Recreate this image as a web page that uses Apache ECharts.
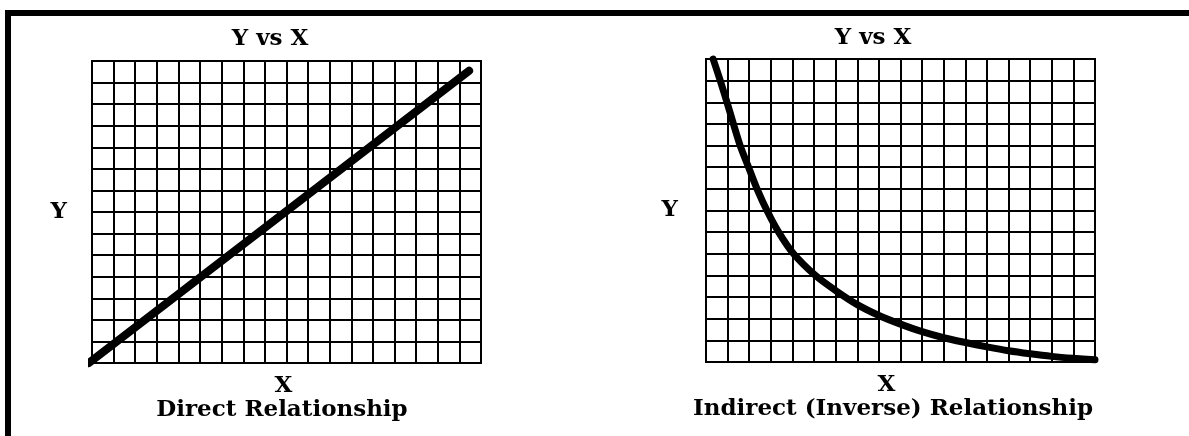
<!DOCTYPE html>
<html>
<head>
<meta charset="utf-8">
<title>Y vs X</title>
<script src="https://cdn.jsdelivr.net/npm/echarts/dist/echarts.min.js"></script>
<style>
  html, body { margin: 0; padding: 0; background: #fff; }
  #chart { width: 1189px; height: 436px; }
</style>
</head>
<body>
<div id="chart"></div>
<script>
  // grid cells, same on both panels
  var xMax = 18;
  var yMax = 14;

  // direct relationship: straight line
  var directX = [-0.15, 17.45];
  var directY = [0, 13.55];

  // indirect (inverse) relationship: falling curve
  var inverseX = [0.33, 0.66, 0.97, 1.27, 1.58, 1.97, 2.36, 2.82, 3.36, 4.05, 5.06, 6, 7, 8, 9, 10, 11, 12, 13, 14, 15, 16, 17, 18];
  var inverseY = [14, 13, 12, 11, 10, 9, 8, 7, 6, 5, 4, 3.3, 2.65, 2.15, 1.75, 1.4, 1.12, 0.9, 0.7, 0.52, 0.38, 0.26, 0.17, 0.1];

  var titles = ['Y vs X', 'Y vs X'];
  var captions = ['Direct Relationship', 'Indirect (Inverse) Relationship'];

  var font = {
    fontFamily: 'DejaVu Serif',
    fontWeight: 'bold',
    fontSize: 23,
    color: '#000'
  };

  function pairs(xs, ys) {
    return xs.map(function (x, i) { return [x, ys[i]]; });
  }

  function xAxis(idx, padRight) {
    return {
      type: 'value',
      gridIndex: idx,
      min: 0,
      max: xMax,
      interval: 1,
      name: 'X',
      nameLocation: 'middle',
      nameGap: 12,
      nameTextStyle: Object.assign({ padding: [0, padRight, 0, 0] }, font),
      axisLine: { show: true, lineStyle: { color: '#000', width: 2 } },
      axisTick: { show: false },
      axisLabel: { show: false },
      splitLine: { show: true, lineStyle: { color: '#000', width: 2 } }
    };
  }

  function yAxis(idx, gap) {
    return {
      type: 'value',
      gridIndex: idx,
      min: 0,
      max: yMax,
      interval: 1,
      name: 'Y',
      nameLocation: 'middle',
      nameRotate: 0,
      nameGap: gap,
      nameTextStyle: Object.assign({ padding: [0, 0, 8, 0] }, font),
      axisLine: { show: true, lineStyle: { color: '#000', width: 2 } },
      axisTick: { show: false },
      axisLabel: { show: false },
      splitLine: { show: true, lineStyle: { color: '#000', width: 2 } }
    };
  }

  var chart = echarts.init(document.getElementById('chart'));
  chart.setOption({
    animation: false,
    backgroundColor: '#fff',
    title: [{
      text: titles[0], left: 270, top: 28, textAlign: 'center', padding: 0, textStyle: font
    }, {
      text: titles[1], left: 873, top: 27, textAlign: 'center', padding: 0, textStyle: font
    }, {
      text: captions[0], left: 282, top: 399, textAlign: 'center', padding: 0, textStyle: font
    }, {
      text: captions[1], left: 893, top: 398, textAlign: 'center', padding: 0, textStyle: font
    }],
    graphic: [{
      type: 'rect', shape: { x: 5, y: 10, width: 6, height: 426 }, style: { fill: '#000' }
    }, {
      type: 'rect', shape: { x: 5, y: 10, width: 1184, height: 6 }, style: { fill: '#000' }
    }],
    grid: [{
      left: 92, top: 61, width: 389, height: 302,
      show: true, borderColor: '#000', borderWidth: 2
    }, {
      left: 706, top: 59, width: 389, height: 303,
      show: true, borderColor: '#000', borderWidth: 2
    }],
    xAxis: [xAxis(0, 6), xAxis(1, 28)],
    yAxis: [yAxis(0, 25), yAxis(1, 28)],
    series: [{
      type: 'line',
      xAxisIndex: 0,
      yAxisIndex: 0,
      data: pairs(directX, directY),
      showSymbol: false,
      clip: false,
      lineStyle: { color: '#000', width: 8, cap: 'round' }
    }, {
      type: 'line',
      xAxisIndex: 1,
      yAxisIndex: 1,
      data: pairs(inverseX, inverseY),
      showSymbol: false,
      smooth: 0.3,
      clip: false,
      lineStyle: { color: '#000', width: 7, cap: 'round' }
    }]
  });
</script>
</body>
</html>
